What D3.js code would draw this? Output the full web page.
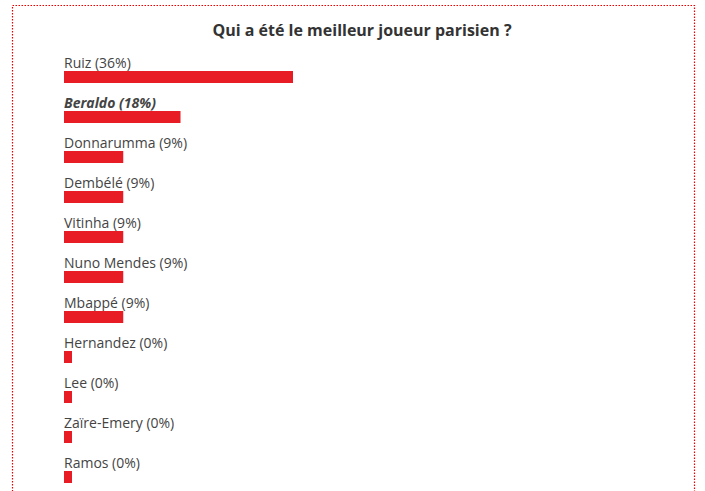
<!DOCTYPE html>
<html><head><meta charset="utf-8">
<script src="https://cdn.jsdelivr.net/npm/d3@7"></script>
<style>body{margin:0;background:#fff;font-family:"Open Sans",sans-serif}</style>
</head><body><svg id="c" width="705" height="491"></svg>
<script>
const names=["Ruiz","Beraldo","Donnarumma","Dembélé","Vitinha","Nuno Mendes","Mbappé","Hernandez","Lee","Zaïre-Emery","Ramos"];
const values=[36,18,9,9,9,9,9,0,0,0,0];
const highlighted=["Beraldo"];
const title="Qui a été le meilleur joueur parisien ?";
const svg=d3.select("#c");
svg.append("rect").attr("x",12.5).attr("y",5.5).attr("width",682).attr("height",500)
 .attr("fill","none").attr("stroke","#e00").attr("stroke-width",1.2).attr("stroke-dasharray","1.5,1.5");
svg.append("text").attr("x",362).attr("y",36).attr("text-anchor","middle")
 .attr("font-weight","bold").attr("font-size",16).attr("fill","#333").text(title);
const x=d3.scaleLinear().domain([0,36]).range([0,229]);
const y=d3.scaleBand().domain(names).range([51,491]);
const g=svg.selectAll("g.r").data(names).join("g").attr("transform",d=>`translate(64,${y(d)})`);
g.append("text").attr("y",17).attr("font-size",14).attr("fill","#444")
 .attr("font-weight",d=>highlighted.includes(d)?"bold":"normal")
 .attr("font-style",d=>highlighted.includes(d)?"italic":"normal")
 .text((d,i)=>`${d} (${values[i]}%)`);
g.append("rect").attr("y",20).attr("height",12).attr("fill","#e81c24")
 .attr("width",(d,i)=>Math.max(8,x(values[i])+(values[i]>0&&values[i]<36?2:0)));
</script></body></html>
